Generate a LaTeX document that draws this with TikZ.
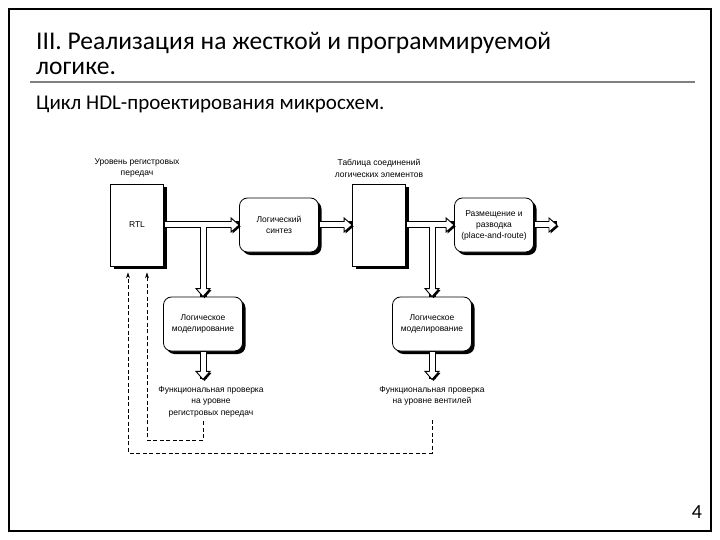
\documentclass[tikz,border=0pt]{standalone}
\usepackage{fontspec}
\setmainfont{Carlito}
\newfontfamily\lblfont{Liberation Sans}
\usetikzlibrary{arrows.meta,shadows,positioning}

\tikzset{
  blk/.style={draw, thick, fill=white, inner sep=2pt, minimum width=53pt, minimum height=82pt,
    font=\lblfont\fontsize{8.5}{11}\selectfont,
    drop shadow={fill=black, opacity=1, shadow xshift=3pt, shadow yshift=-3pt}},
  stage/.style={blk, rounded corners=8pt, minimum width=79pt, minimum height=54pt, align=center},
  lbl/.style={font=\lblfont\fontsize{8.5}{11.5}\selectfont, align=center, inner sep=1pt},
  shade/.style={line width=7pt, shift={(1.5,1.5)}},
  rim/.style={line width=7pt},
  core/.style={line width=5pt, white, shorten <=0.6pt},
  fb/.style={line width=0.8pt, dash pattern=on 4pt off 2.5pt, -{Stealth[length=6pt,width=4pt]}},
  head/.pic={
    \fill[white] (-8,-7) -- (0,0) -- (-8,7) -- cycle;
    \draw[line width=0.9pt, line join=miter] (-8,-2.5) -- (-8,-7) -- (0,0) -- (-8,7) -- (-8,2.5);
  },
  headshade/.pic={\fill (-8,-7) -- (0,0) -- (-8,7) -- cycle;}
}

\begin{document}
\begin{tikzpicture}[x=1pt,y=-1pt]
\useasboundingbox (0,0) rectangle (720,540);
\draw[line width=2pt] (9,9) rectangle (711,531);

% title
\node[anchor=base west, inner sep=0, font=\fontsize{25.5}{30}\selectfont] (title) at (36,50) {III. Реализация на жесткой и программируемой};
\node[anchor=base west, inner sep=0, font=\fontsize{25.5}{30}\selectfont] (title2) at (36,75) {логике.};
\draw[gray, line width=1.5pt] (30,82) -- (695,82);
\node[anchor=base west, inner sep=0, font=\fontsize{21}{25}\selectfont] (sub) at (36,110) {Цикл HDL-проектирования микросхем.};
\node[font=\fontsize{20}{24}\selectfont] (pnum) at (697,512) {4};

% blocks
\node[blk] (rtl) at (137,225) {RTL};
\node[blk] (net) at (379,225) {};
\node[stage] (synth) at (279,225) {Логический\\синтез};
\node[stage] (place) at (494,225) {Размещение и\\разводка\\(place-and-route)};
\node[stage] (model1) at (203,324) {Логическое\\моделирование};
\node[stage] (model2) at (432,324) {Логическое\\моделирование};

\node[lbl, above=5pt of rtl] (rtltop) {Уровень регистровых\\передач};
\node[lbl, above=5pt of net] (nettop) {Таблица соединений\\логических элементов};

\coordinate (j1) at (rtl.east -| model1.north);
\coordinate (j2) at (net.east -| model2.north);
\coordinate (out) at (557,225);
\coordinate (m1out) at ([yshift=-28pt]model1.south);
\coordinate (m2out) at ([yshift=-28pt]model2.south);

\node[lbl, below=6pt of m1out, xshift=8pt] (chk1) {Функциональная проверка\\на уровне\\регистровых передач};
\node[lbl, below=6pt of m2out] (chk2) {Функциональная проверка\\на уровне вентилей};

% fat arrows: shadow, rim, heads, core
\draw[shade] (rtl.east) -- (synth.west) (j1) -- (model1.north)
  (synth.east) -- (net.west) (net.east) -- (place.west) (j2) -- (model2.north)
  (place.east) -- (out) (model1.south) -- (m1out) (model2.south) -- (m2out);
\foreach \p/\r in {synth.west/0, net.west/0, place.west/0, out/0, model1.north/-90, model2.north/-90, m1out/-90, m2out/-90}
  \pic[rotate=\r] at ([shift={(1.5,1.5)}]\p) {headshade};
\draw[rim] (rtl.east) -- (synth.west) (j1) -- (model1.north)
  (synth.east) -- (net.west) (net.east) -- (place.west) (j2) -- (model2.north)
  (place.east) -- (out) (model1.south) -- (m1out) (model2.south) -- (m2out);
\foreach \p/\r in {synth.west/0, net.west/0, place.west/0, out/0, model1.north/-90, model2.north/-90, m1out/-90, m2out/-90}
  \pic[rotate=\r] at (\p) {head};
\draw[core, shorten >=7.5pt] (rtl.east) -- (synth.west);
\draw[core, shorten >=7.5pt] (synth.east) -- (net.west);
\draw[core, shorten >=7.5pt] (net.east) -- (place.west);
\draw[core, shorten >=7.5pt] (place.east) -- (out);
\draw[core, shorten >=7.5pt, shorten <=0pt] (j1) -- (model1.north);
\draw[core, shorten >=7.5pt, shorten <=0pt] (j2) -- (model2.north);
\draw[core, shorten >=7.5pt] (model1.south) -- (m1out);
\draw[core, shorten >=7.5pt] (model2.south) -- (m2out);

% feedback
\draw[fb] ([yshift=-3pt]chk1.south -| model1.south) -- ++(0,19) -| ([xshift=10pt,yshift=-6pt]rtl.south);
\draw[fb] ([yshift=-13pt]chk2.south -| model2.south) -- ++(0,33) -| ([xshift=-9pt,yshift=-6pt]rtl.south);
\end{tikzpicture}
\end{document}
